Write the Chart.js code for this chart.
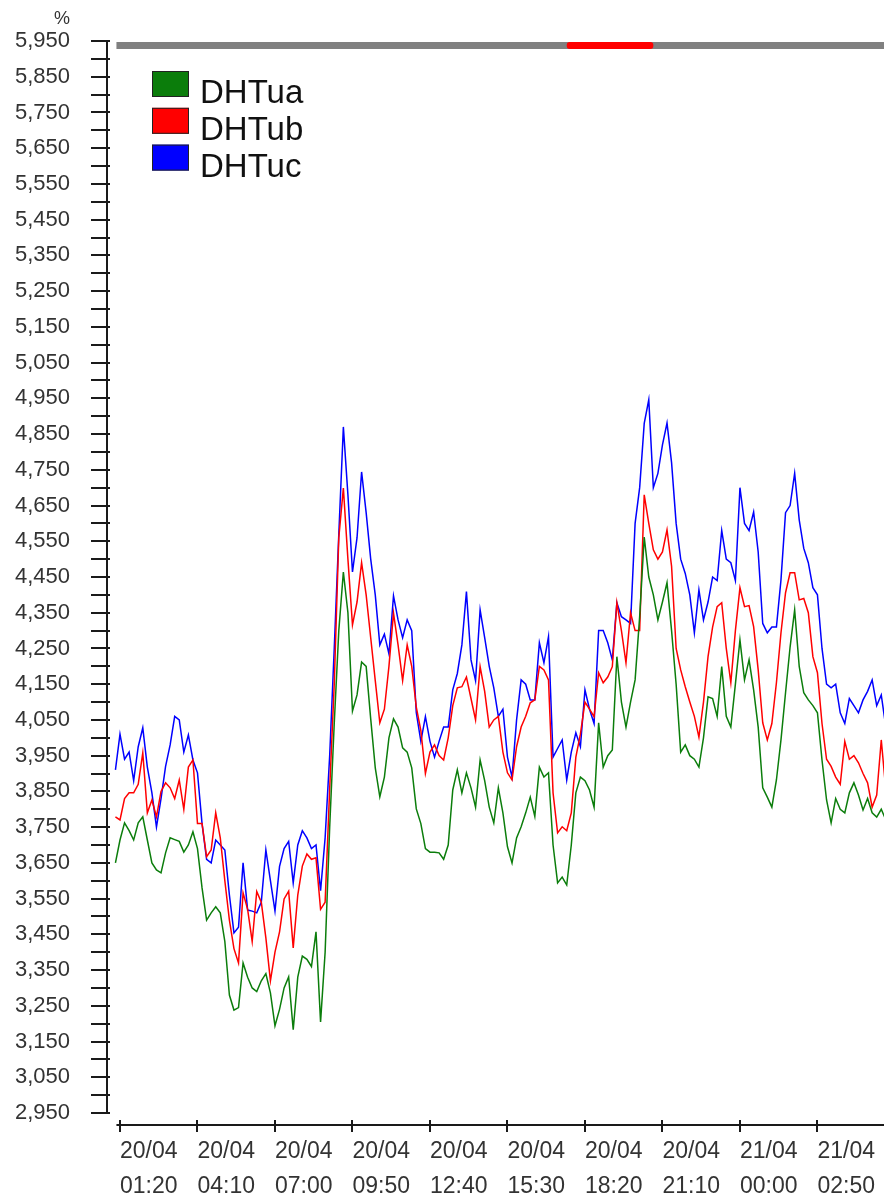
<!DOCTYPE html>
<html><head><meta charset="utf-8">
<script src="https://cdn.jsdelivr.net/npm/chart.js@4.4.1/dist/chart.umd.min.js"></script>
<style>
html,body{margin:0;padding:0;background:#fff;}
#wrap{position:relative;width:884px;height:1196px;}
</style></head><body>
<div id="wrap"><canvas id="c"></canvas></div>
<script>
const seriesNames = ['DHTua', 'DHTub', 'DHTuc'];
const seriesColors = ['#0b7d0b', '#ff0000', '#0000ff'];

// sampling: first sample 01:10 on 20/04, one sample every 10 minutes (minutes since 20/04 00:00)
const startMinute = 70;
const stepMinutes = 10;

const DHTua = [
3650,3714,3762,3740,3714,3762,3779,3714,3650,3630,
3622,3678,3720,3715,3710,3680,3700,3737,3690,3580,
3490,3510,3527,3510,3430,3280,3238,3245,3370,3330,
3300,3290,3320,3340,3286,3194,3240,3300,3331,3183,
3330,3389,3380,3360,3457,3205,3400,3750,4040,4300,
4464,4350,4075,4120,4212,4200,4053,3916,3835,3890,
4000,4053,4030,3972,3960,3916,3801,3760,3690,3680,
3680,3678,3660,3700,3854,3910,3846,3902,3860,3806,
3938,3880,3806,3762,3860,3790,3695,3650,3720,3751,
3790,3834,3780,3918,3890,3902,3700,3594,3610,3588,
3700,3846,3890,3880,3854,3806,4042,3918,3950,3966,
4227,4100,4030,4100,4162,4339,4562,4450,4400,4330,
4380,4434,4300,4150,3960,3980,3950,3940,3918,4000,
4115,4110,4060,4199,4060,4030,4150,4274,4162,4218,
4134,4030,3860,3834,3806,3882,3994,4126,4254,4358,
4200,4126,4106,4090,4070,3938,3826,3762,3830,3800,
3790,3846,3874,3840,3798,3830,3790,3778,3800,3770
];
const DHTub = [
3779,3770,3830,3846,3846,3870,3958,3790,3826,3779,
3850,3874,3860,3830,3882,3800,3918,3938,3760,3760,
3667,3686,3790,3720,3600,3490,3410,3370,3566,3520,
3430,3570,3540,3440,3320,3400,3457,3549,3571,3412,
3560,3641,3675,3660,3664,3520,3540,3857,4150,4560,
4699,4500,4316,4380,4490,4400,4280,4160,4042,4080,
4200,4349,4260,4160,4260,4200,4086,4020,3900,3960,
3980,3950,3938,4000,4090,4140,4143,4170,4110,4050,
4199,4130,4030,4050,4060,3960,3902,3882,3975,4030,
4060,4098,4106,4200,4190,4162,3846,3734,3751,3740,
3790,3946,4010,4100,4080,4059,4182,4154,4170,4199,
4378,4300,4210,4350,4300,4300,4680,4600,4526,4500,
4520,4582,4480,4250,4190,4143,4100,4060,4002,4100,
4227,4310,4367,4378,4250,4154,4300,4420,4367,4370,
4311,4190,4042,3994,4040,4154,4294,4406,4462,4462,
4386,4390,4350,4227,4182,4040,3940,3920,3890,3870,
3990,3940,3950,3930,3900,3874,3806,3840,3994,3854
];
const DHTuc = [
3910,4010,3940,3960,3880,3975,4028,3918,3846,3750,
3830,3920,3980,4060,4050,3960,4008,3938,3902,3760,
3660,3650,3714,3700,3686,3560,3454,3470,3650,3518,
3515,3510,3540,3686,3600,3515,3640,3690,3710,3594,
3700,3740,3720,3690,3700,3572,3720,3950,4250,4570,
4870,4680,4464,4560,4744,4630,4500,4400,4260,4290,
4235,4397,4330,4280,4330,4300,4070,3990,4059,3990,
3946,3990,4030,4030,4134,4180,4260,4409,4218,4160,
4358,4280,4200,4140,4060,4080,3946,3890,4050,4162,
4150,4106,4106,4266,4210,4283,3946,3970,3994,3882,
3960,4014,3975,4134,4080,4040,4300,4300,4266,4218,
4378,4339,4330,4320,4600,4700,4880,4946,4700,4740,
4820,4881,4770,4600,4500,4460,4400,4294,4414,4330,
4380,4450,4440,4580,4500,4490,4440,4700,4600,4580,
4632,4520,4320,4294,4310,4310,4442,4630,4650,4740,
4610,4530,4490,4420,4400,4250,4150,4140,4150,4070,
4040,4110,4090,4070,4106,4130,4162,4090,4120,4030
];

const xTickMinutes = [80, 250, 420, 590, 760, 930, 1100, 1270, 1440, 1610];
const xTickLabels = [
  ['20/04','01:20'], ['20/04','04:10'], ['20/04','07:00'], ['20/04','09:50'], ['20/04','12:40'],
  ['20/04','15:30'], ['20/04','18:20'], ['20/04','21:10'], ['21/04','00:00'], ['21/04','02:50']
];
const yLabelValues = [2950,3050,3150,3250,3350,3450,3550,3650,3750,3850,3950,4050,4150,4250,4350,
  4450,4550,4650,4750,4850,4950,5050,5150,5250,5350,5450,5550,5650,5750,5850,5950];
const yMinorValues = [3000,3100,3200,3300,3400,3500,3600,3700,3800,3900,4000,4100,4200,4300,4400,
  4500,4600,4700,4800,4900,5000,5100,5200,5300,5400,5500,5600,5700,5800,5900];
const highlightRange = [1060, 1250];
const yUnit = '%';

const yTickValues = yLabelValues.concat(yMinorValues).sort((a,b)=>a-b);
const times = DHTua.map((_, i) => startMinute + i * stepMinutes);
const seriesValues = [DHTua, DHTub, DHTuc];

const FONT = '"Liberation Sans", Arial, sans-serif';

const decor = {
  id: 'decor',
  afterDraw(chart) {
    const {ctx, chartArea: a, scales: {x, y}} = chart;
    ctx.save();
    ctx.strokeStyle = '#1a1a1a';
    ctx.lineWidth = 2;
    // y axis line + ticks
    const yTop = y.getPixelForValue(yTickValues[yTickValues.length - 1]);
    const yBot = y.getPixelForValue(yTickValues[0]);
    ctx.beginPath(); ctx.moveTo(a.left, yTop - 1); ctx.lineTo(a.left, yBot); ctx.stroke();
    yTickValues.forEach(v => {
      const p = Math.round(y.getPixelForValue(v));
      ctx.beginPath(); ctx.moveTo(a.left - 16, p); ctx.lineTo(a.left + 3, p); ctx.stroke();
    });
    // x axis line + ticks
    const xStart = x.getPixelForValue(times[0]) + 1;
    const xb = Math.round(a.bottom);
    ctx.beginPath(); ctx.moveTo(xStart, xb); ctx.lineTo(a.right, xb); ctx.stroke();
    xTickMinutes.forEach(v => {
      const p = Math.round(x.getPixelForValue(v));
      ctx.beginPath(); ctx.moveTo(p, xb - 5); ctx.lineTo(p, xb + 7); ctx.stroke();
    });
    // range bar at top
    const barY = a.top + 1, barH = 7;
    ctx.fillStyle = '#808080';
    ctx.fillRect(xStart, barY, a.right - xStart, barH);
    ctx.fillStyle = '#ff0000';
    const r0 = x.getPixelForValue(highlightRange[0]), r1 = x.getPixelForValue(highlightRange[1]);
    ctx.beginPath();
    ctx.roundRect(r0, barY, r1 - r0, barH, 3);
    ctx.fill();
    // unit
    ctx.fillStyle = '#333';
    ctx.font = '18px ' + FONT;
    ctx.textAlign = 'center';
    ctx.textBaseline = 'middle';
    ctx.fillText(yUnit, 62, 19);
    // legend
    ctx.textAlign = 'left';
    ctx.textBaseline = 'alphabetic';
    ctx.font = '33px ' + FONT;
    chart.data.datasets.forEach((ds, i) => {
      const by = 71 + i * 36.8;
      ctx.fillStyle = ds.borderColor;
      ctx.fillRect(152, by, 37, 26);
      ctx.lineWidth = 1;
      ctx.strokeStyle = '#222';
      ctx.strokeRect(152.5, by + 0.5, 36, 25);
      ctx.fillStyle = '#111';
      ctx.fillText(ds.label, 200, by + 32);
    });
    ctx.restore();
  }
};

new Chart(document.getElementById('c'), {
  type: 'line',
  data: {
    datasets: seriesNames.map((name, i) => ({
      label: name,
      data: seriesValues[i].map((v, j) => ({x: times[j], y: v})),
      borderColor: seriesColors[i],
      backgroundColor: seriesColors[i],
      borderWidth: 1.5,
      pointRadius: 0,
      tension: 0,
      fill: false
    }))
  },
  options: {
    responsive: true,
    maintainAspectRatio: false,
    animation: false,
    events: [],
    layout: {padding: {top: 41, left: 0, right: 0, bottom: 0}},
    plugins: {legend: {display: false}, tooltip: {enabled: false}, title: {display: false}},
    scales: {
      x: {
        type: 'linear', min: 51.5, max: 1756,
        afterBuildTicks: s => { s.ticks = xTickMinutes.map(v => ({value: v})); },
        afterFit: s => { s.height = 71; s.paddingLeft = 0; s.paddingRight = 0; },
        grid: {display: false, drawTicks: false}, border: {display: false},
        ticks: {
          align: 'start', padding: 9.5, maxRotation: 0, minRotation: 0, autoSkip: false,
          color: '#333', font: {family: FONT, size: 23, lineHeight: 35 / 23},
          callback: v => { const i = xTickMinutes.indexOf(v); return i >= 0 ? xTickLabels[i] : ''; }
        }
      },
      y: {
        type: 'linear', min: 2916.4, max: 5950,
        afterBuildTicks: s => { s.ticks = yTickValues.map(v => ({value: v})); },
        afterFit: s => { s.width = 107; s.paddingTop = 0; s.paddingBottom = 0; },
        grid: {display: false, drawTicks: false}, border: {display: false},
        ticks: {
          padding: 37, autoSkip: false, color: '#333', font: {family: FONT, size: 22},
          callback: v => yLabelValues.includes(v) ? v.toLocaleString('en-US') : ''
        }
      }
    }
  },
  plugins: [decor]
});
</script>
</body></html>
